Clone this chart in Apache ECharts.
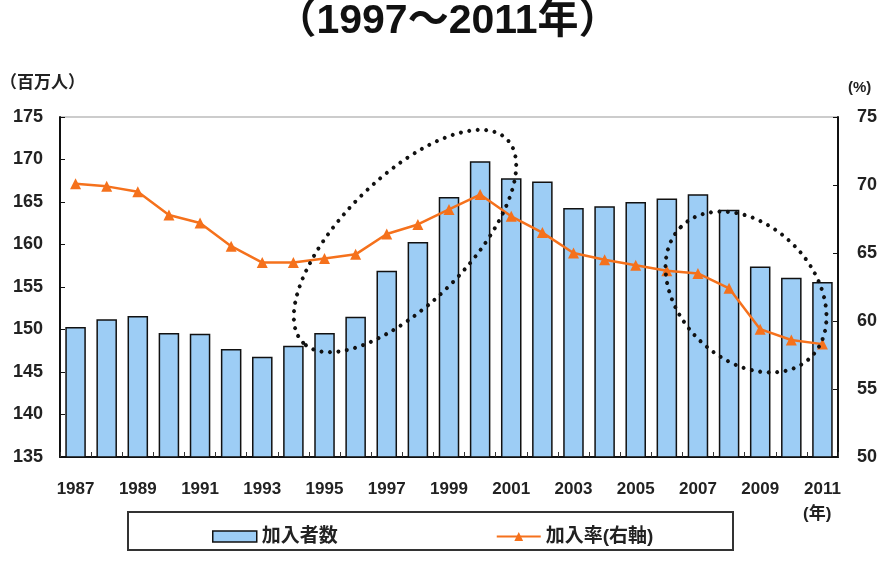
<!DOCTYPE html>
<html><head><meta charset="utf-8">
<script src="https://cdn.jsdelivr.net/npm/echarts@6/dist/echarts.min.js"></script>
<style>html,body{margin:0;padding:0;background:#fff}#c{width:895px;height:561px}</style>
</head><body><div id="c"></div>
<script>
const years = ['1987','1988','1989','1990','1991','1992','1993','1994','1995','1996','1997','1998','1999','2000','2001','2002','2003','2004','2005','2006','2007','2008','2009','2010','2011'];
const members = [150.3,151.2,151.6,149.6,149.5,147.7,146.8,148.1,149.6,151.5,156.9,160.3,165.6,169.8,167.8,167.4,164.3,164.5,165.0,165.4,165.9,164.1,157.4,156.1,155.6];
const rate = [70.1,69.9,69.5,67.8,67.2,65.5,64.3,64.3,64.6,64.9,66.4,67.1,68.2,69.3,67.7,66.5,65.0,64.5,64.1,63.7,63.5,62.4,59.4,58.6,58.3];
const leftAxis = {min:135, max:175, interval:5};
const rightAxis = {min:50, max:75, interval:5};
const title = '（1997～2011年）';
const seriesNames = ['加入者数','加入率(右軸)'];
const unitLeft = '（百万人）', unitRight = '(%)', unitX = '(年)';

const FONT = '"Liberation Sans", "Noto Sans CJK JP", sans-serif';
const barColor = '#9DCDF5';
const lineColor = '#F5711C';
const chart = echarts.init(document.getElementById('c'));
const dotStyle = {fill:'none', stroke:'#111', lineWidth:4, lineDash:[0,8.5], lineCap:'round'};
chart.setOption({
  animation:false,
  title:{text:title, left:'center', top:-4, textStyle:{fontFamily:FONT, fontSize:41, fontWeight:'bold', color:'#111'}},
  grid:{left:60, right:57, top:117, bottom:104, show:true, borderColor:'#999', borderWidth:1},
  legend:{left:207, top:522, itemWidth:44, itemHeight:11, itemGap:158,
    textStyle:{fontFamily:FONT, fontSize:19, fontWeight:'bold', color:'#222'},
    data:[{name:seriesNames[0], icon:'rect', itemStyle:{color:barColor, borderColor:'#111', borderWidth:1.5}},
          {name:seriesNames[1]}]},
  xAxis:{type:'category', data:years,
    axisLine:{lineStyle:{color:'#111', width:2}},
    axisTick:{show:true, inside:true, length:5, interval:0, lineStyle:{color:'#333'}},
    axisLabel:{interval:1, margin:24, fontFamily:FONT, fontSize:17, fontWeight:'bold', color:'#222'}},
  yAxis:[
    {type:'value', min:leftAxis.min, max:leftAxis.max, interval:leftAxis.interval,
     axisLine:{show:true, lineStyle:{color:'#111', width:2}},
     axisTick:{show:true, inside:true, length:5, lineStyle:{color:'#111'}},
     splitLine:{show:false},
     axisLabel:{margin:17, fontFamily:FONT, fontSize:18, fontWeight:'bold', color:'#222'}},
    {type:'value', min:rightAxis.min, max:rightAxis.max, interval:rightAxis.interval, position:'right',
     axisLine:{show:true, lineStyle:{color:'#111', width:2}},
     axisTick:{show:true, inside:true, length:5, lineStyle:{color:'#111'}},
     splitLine:{show:false},
     axisLabel:{margin:19, fontFamily:FONT, fontSize:18, fontWeight:'bold', color:'#222'}}
  ],
  series:[
    {name:seriesNames[0], type:'bar', data:members, yAxisIndex:0, barWidth:'66%',
     itemStyle:{color:barColor, borderColor:'#111', borderWidth:1.5}},
    {name:seriesNames[1], type:'line', data:rate, yAxisIndex:1, symbol:'triangle', symbolSize:11,
     lineStyle:{color:lineColor, width:2.5}, itemStyle:{color:lineColor}, z:5}
  ],
  graphic:[
    {type:'rect', shape:{x:128, y:512, width:605, height:38}, style:{fill:'none', stroke:'#333', lineWidth:2}},
    {type:'text', left:0, top:75, style:{text:unitLeft, font:'bold 17px '+FONT, fill:'#222'}},
    {type:'text', left:848, top:80, style:{text:unitRight, font:'bold 15px '+FONT, fill:'#222'}},
    {type:'text', left:803, top:506, style:{text:unitX, font:'bold 17px '+FONT, fill:'#222'}},
    {type:'ellipse', x:405, y:241, rotation:0.785, shape:{cx:0, cy:0, rx:144, ry:63}, style:dotStyle, z:100},
    {type:'ellipse', x:746, y:292, rotation:-0.785, shape:{cx:0, cy:0, rx:92, ry:67}, style:dotStyle, z:100}
  ]
});
</script></body></html>
